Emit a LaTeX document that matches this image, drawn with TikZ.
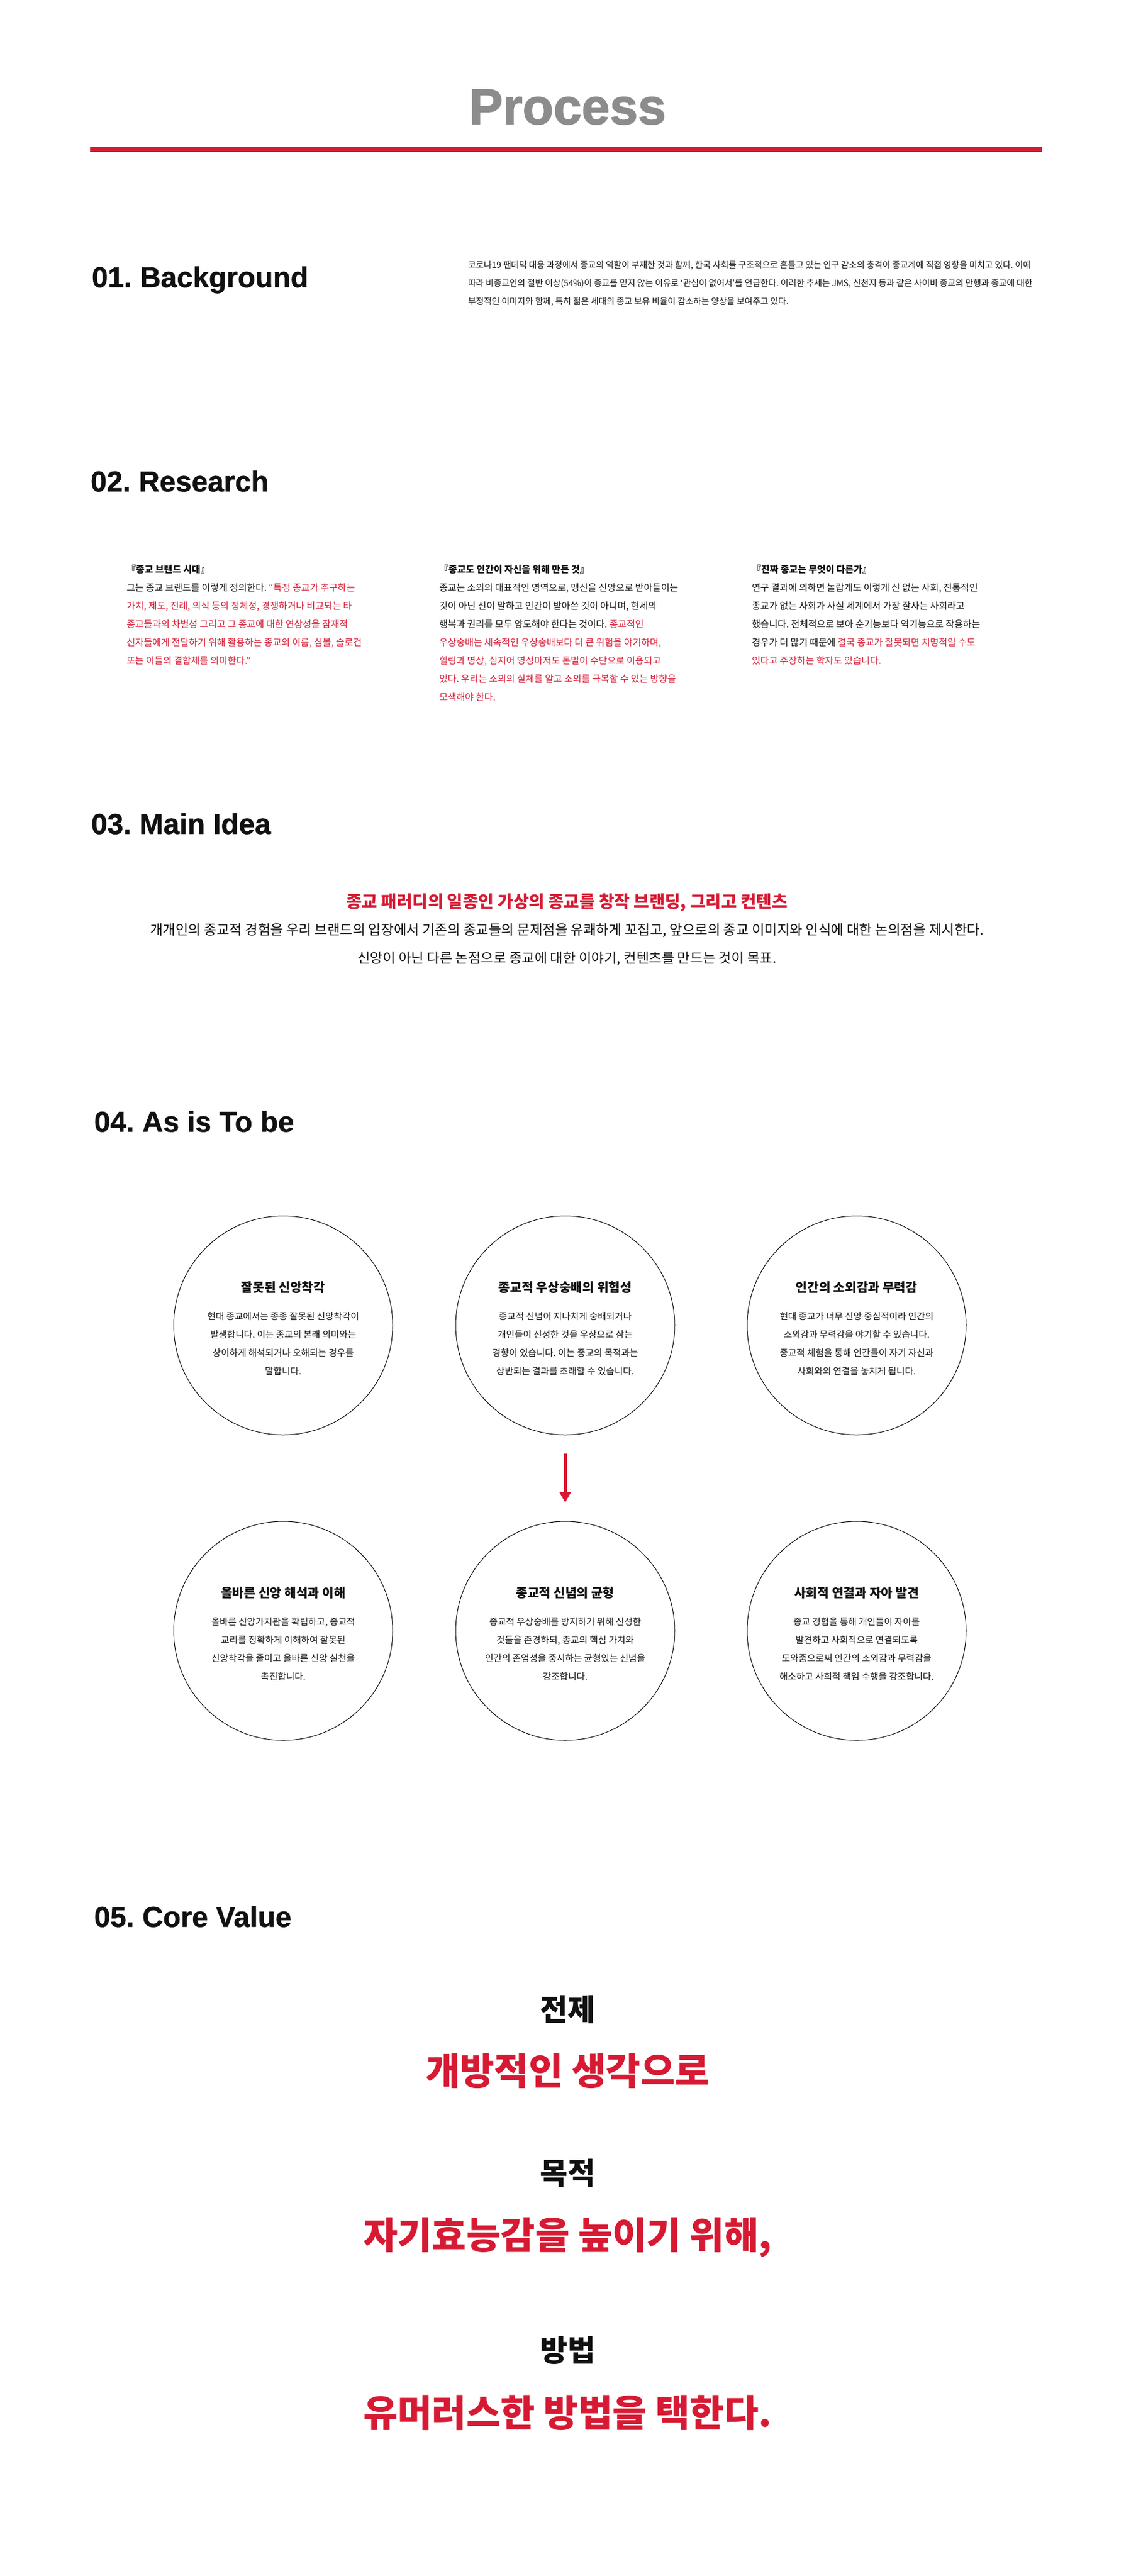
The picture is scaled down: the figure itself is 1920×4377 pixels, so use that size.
\documentclass[tikz,border=0pt]{standalone}
\usepackage{fontspec}
\setmainfont{Noto Sans CJK KR}
\newfontfamily\headfont{Liberation Sans}[BoldFeatures={FakeBold=0.8}]
\newfontfamily\titlefont{Liberation Sans}[BoldFeatures={FakeBold=1.6}]
\usetikzlibrary{arrows.meta}
\definecolor{brand}{HTML}{D71A33}
\definecolor{titlegray}{HTML}{8C8C8C}
\definecolor{ink}{HTML}{111111}
\frenchspacing
\newcommand{\ctxt}[6]{%
  \node[ctitle] (#1-t) at ([yshift=57pt]#1.center) {#2};
  \node[cbody] (#1-a) at ([yshift=9.5pt]#1.center) {#3};
  \node[cbody] (#1-b) at ([yshift=-21.5pt]#1.center) {#4};
  \node[cbody] (#1-c) at ([yshift=-52.5pt]#1.center) {#5};
  \node[cbody] (#1-d) at ([yshift=-83.5pt]#1.center) {#6};
}
\begin{document}
\begin{tikzpicture}[x=1pt,y=-1pt,
  every node/.style={inner sep=0pt, outer sep=0pt, text=ink},
  heading/.style={anchor=base west, font=\headfont\bfseries\fontsize{49}{55}\selectfont},
  bgtext/.style={anchor=base west, font=\fontsize{14.6}{17}\selectfont},
  restext/.style={anchor=base west, font=\fontsize{15.9}{19}\selectfont},
  restitle/.style={anchor=base west, font=\bfseries\fontsize{15.9}{19}\selectfont},
  mainred/.style={anchor=base, text=brand, font=\bfseries\fontsize{28.7}{34}\selectfont},
  mainbody/.style={anchor=base, font=\fontsize{23.4}{28}\selectfont},
  circ/.style={circle, draw=black, line width=1pt, minimum size=372pt, inner sep=0pt},
  ctitle/.style={anchor=base, font=\bfseries\fontsize{21.4}{26}\selectfont},
  cbody/.style={anchor=base, font=\fontsize{15.6}{19}\selectfont},
  corelabel/.style={anchor=base, font=\bfseries\fontsize{51}{60}\selectfont},
  corered/.style={anchor=base, text=brand, font=\bfseries\fontsize{63.5}{74}\selectfont},
  flowarrow/.style={draw=brand, line width=5pt, -{Triangle[width=19pt,length=18pt]}, shorten <=32pt, shorten >=32pt}
]
\fill[white] (0,0) rectangle (1920,4377);
\useasboundingbox (0,0) rectangle (1920,4377);

% Title
\node[anchor=base, text=titlegray, font=\titlefont\bfseries\fontsize{86}{92}\selectfont] (title) at (964,211) {Process};
\fill[brand] (153,250) rectangle (1770,258);

% 01 Background
\node[heading] (h1) at (156,488) {01. Background};
\node[bgtext] (bg1) at (795,455) {코로나19 팬데믹 대응 과정에서 종교의 역할이 부재한 것과 함께, 한국 사회를 구조적으로 흔들고 있는 인구 감소의 충격이 종교계에 직접 영향을 미치고 있다. 이에};
\node[bgtext] (bg2) at (795,486) {따라 비종교인의 절반 이상(54\%)이 종교를 믿지 않는 이유로 ‘관심이 없어서’를 언급한다. 이러한 추세는 JMS, 신천지 등과 같은 사이비 종교의 만행과 종교에 대한};
\node[bgtext] (bg3) at (795,517) {부정적인 이미지와 함께, 특히 젊은 세대의 종교 보유 비율이 감소하는 양상을 보여주고 있다.};

% 02 Research
\node[heading] (h2) at (154,835) {02. Research};

\node[restitle] (r1t) at (215,973) {『종교 브랜드 시대』};
\node[restext] (r1a) at (215,1004) {그는 종교 브랜드를 이렇게 정의한다. \textcolor{brand}{“특정 종교가 추구하는}};
\node[restext, text=brand] (r1b) at (215,1035) {가치, 제도, 전례, 의식 등의 정체성, 경쟁하거나 비교되는 타};
\node[restext, text=brand] (r1c) at (215,1066) {종교들과의 차별성 그리고 그 종교에 대한 연상성을 잠재적};
\node[restext, text=brand] (r1d) at (215,1097) {신자들에게 전달하기 위해 활용하는 종교의 이름, 심볼, 슬로건};
\node[restext, text=brand] (r1e) at (215,1128) {또는 이들의 결합체를 의미한다.”};

\node[restitle] (r2t) at (746,973) {『종교도 인간이 자신을 위해 만든 것』};
\node[restext] (r2a) at (746,1004) {종교는 소외의 대표적인 영역으로, 맹신을 신앙으로 받아들이는};
\node[restext] (r2b) at (746,1035) {것이 아닌 신이 말하고 인간이 받아쓴 것이 아니며, 현세의};
\node[restext] (r2c) at (746,1066) {행복과 권리를 모두 양도해야 한다는 것이다. \textcolor{brand}{종교적인}};
\node[restext, text=brand] (r2d) at (746,1097) {우상숭배는 세속적인 우상숭배보다 더 큰 위험을 야기하며,};
\node[restext, text=brand] (r2e) at (746,1128) {힐링과 명상, 심지어 영성마저도 돈벌이 수단으로 이용되고};
\node[restext, text=brand] (r2f) at (746,1159) {있다. 우리는 소외의 실체를 알고 소외를 극복할 수 있는 방향을};
\node[restext, text=brand] (r2g) at (746,1190) {모색해야 한다.};

\node[restitle] (r3t) at (1277,973) {『진짜 종교는 무엇이 다른가』};
\node[restext] (r3a) at (1277,1004) {연구 결과에 의하면 놀랍게도 이렇게 신 없는 사회, 전통적인};
\node[restext] (r3b) at (1277,1035) {종교가 없는 사회가 사실 세계에서 가장 잘사는 사회라고};
\node[restext] (r3c) at (1277,1066) {했습니다. 전체적으로 보아 순기능보다 역기능으로 작용하는};
\node[restext] (r3d) at (1277,1097) {경우가 더 많기 때문에 \textcolor{brand}{결국 종교가 잘못되면 치명적일 수도}};
\node[restext, text=brand] (r3e) at (1277,1128) {있다고 주장하는 학자도 있습니다.};

% 03 Main Idea
\node[heading] (h3) at (155,1417) {03. Main Idea};
\node[mainred] (m1) at (963,1542) {종교 패러디의 일종인 가상의 종교를 창작 브랜딩, 그리고 컨텐츠};
\node[mainbody] (m2) at (963,1588) {개개인의 종교적 경험을 우리 브랜드의 입장에서 기존의 종교들의 문제점을 유쾌하게 꼬집고, 앞으로의 종교 이미지와 인식에 대한 논의점을 제시한다.};
\node[mainbody] (m3) at (963,1636) {신앙이 아닌 다른 논점으로 종교에 대한 이야기, 컨텐츠를 만드는 것이 목표.};

% 04 As is To be
\node[heading] (h4) at (160,1923) {04. As is To be};
\node[circ] (c1) at (481,2252) {};
\node[circ] (c2) at (960,2252) {};
\node[circ] (c3) at (1455,2252) {};
\node[circ] (c4) at (481,2771) {};
\node[circ] (c5) at (960,2771) {};
\node[circ] (c6) at (1455,2771) {};

\ctxt{c1}{잘못된 신앙착각}{현대 종교에서는 종종 잘못된 신앙착각이}{발생합니다. 이는 종교의 본래 의미와는}{상이하게 해석되거나 오해되는 경우를}{말합니다.}
\ctxt{c2}{종교적 우상숭배의 위험성}{종교적 신념이 지나치게 숭배되거나}{개인들이 신성한 것을 우상으로 삼는}{경향이 있습니다. 이는 종교의 목적과는}{상반되는 결과를 초래할 수 있습니다.}
\ctxt{c3}{인간의 소외감과 무력감}{현대 종교가 너무 신앙 중심적이라 인간의}{소외감과 무력감을 야기할 수 있습니다.}{종교적 체험을 통해 인간들이 자기 자신과}{사회와의 연결을 놓치게 됩니다.}
\ctxt{c4}{올바른 신앙 해석과 이해}{올바른 신앙가치관을 확립하고, 종교적}{교리를 정확하게 이해하여 잘못된}{신앙착각을 줄이고 올바른 신앙 실천을}{촉진합니다.}
\ctxt{c5}{종교적 신념의 균형}{종교적 우상숭배를 방지하기 위해 신성한}{것들을 존경하되, 종교의 핵심 가치와}{인간의 존엄성을 중시하는 균형있는 신념을}{강조합니다.}
\ctxt{c6}{사회적 연결과 자아 발견}{종교 경험을 통해 개인들이 자아를}{발견하고 사회적으로 연결되도록}{도와줌으로써 인간의 소외감과 무력감을}{해소하고 사회적 책임 수행을 강조합니다.}

\draw[flowarrow] (c2) -- (c5);

% 05 Core Value
\node[heading] (h5) at (160,3274) {05. Core Value};
\node[corelabel] (k1) at (964,3433) {전제};
\node[corered] (k2) at (964,3542) {개방적인 생각으로};
\node[corelabel] (k3) at (964,3711) {목적};
\node[corered] (k4) at (964,3821) {자기효능감을 높이기 위해,};
\node[corelabel] (k5) at (964,4012) {방법};
\node[corered] (k6) at (964,4123) {유머러스한 방법을 택한다.};
\end{tikzpicture}
\end{document}
